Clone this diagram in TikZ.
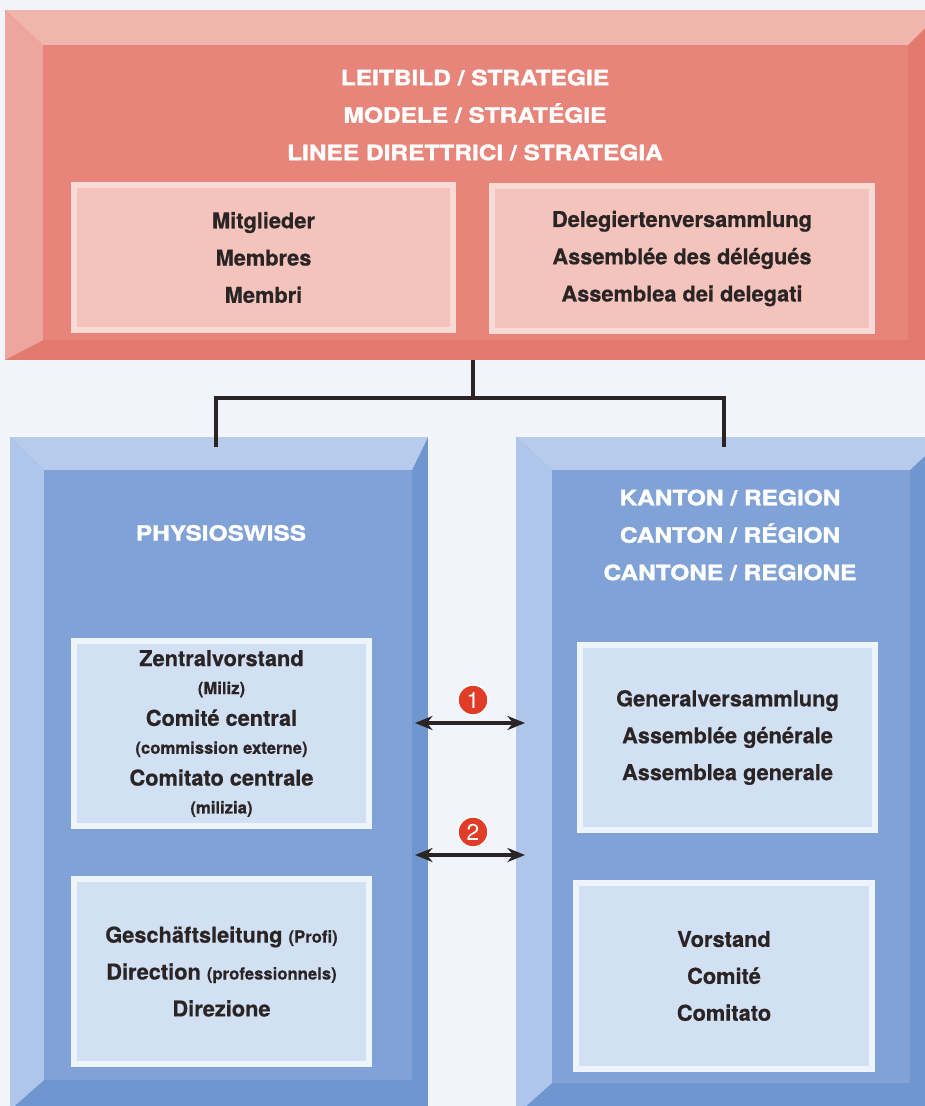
\documentclass[tikz,border=0pt]{standalone}
\usepackage{fontspec}
\setmainfont{TeX Gyre Heros}[BoldFeatures={FakeBold=0.6}]
\newfontfamily\headfont{TeX Gyre Heros}[FakeStretch=1.16, BoldFeatures={FakeBold=1.6}]
\usepackage{tikz}
\usetikzlibrary{arrows.meta}
\definecolor{ink}{HTML}{2A2424}
\definecolor{paper}{HTML}{F1F5FB}
\definecolor{redface}{HTML}{E8857A}
\definecolor{redtop}{HTML}{F0B5AC}
\definecolor{redleft}{HTML}{EDA69D}
\definecolor{reddark}{HTML}{E27A6F}
\definecolor{redframe}{HTML}{F9DAD5}
\definecolor{redinner}{HTML}{F3C3BC}
\definecolor{blueface}{HTML}{80A2D7}
\definecolor{bluetop}{HTML}{B7CCEC}
\definecolor{blueleft}{HTML}{AFC6EA}
\definecolor{bluedark}{HTML}{7096D0}
\definecolor{blueframe}{HTML}{EEF4FC}
\definecolor{blueinner}{HTML}{D2E0F4}
\definecolor{badgered}{HTML}{E03C28}
\newcommand{\orgbox}[4]{\node [#1] (#2) at (#3) {#4}}
\newcommand{\smalltxt}[1]{{\fontsize{9.5}{11}\selectfont #1}}

\tikzset{
  headtitle/.style={text=white, align=center, font=\headfont\bfseries\fontsize{12}{21.3}\selectfont},
  redbox/.style={draw=redframe, fill=redinner, line width=0.12cm, minimum width=7.6cm,
    minimum height=2.92cm, align=center, text=ink, font=\bfseries\fontsize{12.4}{21.2}\selectfont},
  bluebox/.style={draw=blueframe, fill=blueinner, line width=0.12cm, minimum width=5.92cm,
    minimum height=3.72cm, align=center, text=ink, font=\bfseries\fontsize{12.4}{21}\selectfont},
  badge/.style={circle, fill=badgered, draw=white, line width=0.8pt, minimum size=0.6cm,
    inner sep=0pt, text=white, font=\fontsize{13}{13}\selectfont},
  link/.style={draw=ink, line width=2pt},
  both/.style={draw=ink, line width=1.8pt, {Stealth[length=10pt,width=8pt]}-{Stealth[length=10pt,width=8pt]}}
}

\begin{document}
\begin{tikzpicture}[x=0.02cm,y=-0.02cm]
\useasboundingbox (0,0) rectangle (925,1106);
\fill[paper] (0,0) rectangle (925,1106);

% top panel
\fill[reddark] (5,10) rectangle (943,360);
\fill[redtop] (5,10) -- (943,10) -- (908,45) -- (43,45) -- cycle;
\fill[redleft] (5,10) -- (43,45) -- (43,340) -- (5,360) -- cycle;
\fill[redface] (43,45) rectangle (908,340);

% left panel
\fill[bluedark] (10,437) rectangle (428,1130);
\fill[bluetop] (10,437) -- (428,437) -- (412,470) -- (44,470) -- cycle;
\fill[blueleft] (10,437) -- (44,470) -- (44,1080) -- (10,1110) -- cycle;
\fill[blueface] (44,470) rectangle (412,1080);

% right panel
\fill[bluedark] (516,437) rectangle (945,1130);
\fill[bluetop] (516,437) -- (945,437) -- (910,470) -- (552,470) -- cycle;
\fill[blueleft] (516,437) -- (552,470) -- (552,1083) -- (516,1115) -- cycle;
\fill[blueface] (552,470) rectangle (910,1083);

\orgbox{headtitle}{lead}{475,115}{LEITBILD / STRATEGIE\\MODELE / STRATÉGIE\\LINEE DIRETTRICI / STRATEGIA};
\orgbox{redbox}{members}{263.5,257.5}{Mitglieder\\Membres\\Membri};
\orgbox{redbox}{delegates}{682,258.5}{Delegiertenversammlung\\Assemblée des délégués\\Assemblea dei delegati};

\orgbox{headtitle}{physio}{221,533}{PHYSIOSWISS};
\orgbox{headtitle}{canton}{730,535}{KANTON / REGION\\CANTON / RÉGION\\CANTONE / REGIONE};

\orgbox{bluebox,font=\bfseries\fontsize{12.4}{15.9}\selectfont}{central}{221.5,733.5}{Zentralvorstand\\\smalltxt{(Miliz)}\\[2.2pt]Comité central\\\smalltxt{(commission externe)}\\[2.2pt]Comitato centrale\\\smalltxt{(milizia)}};
\orgbox{bluebox}{management}{221.5,971.5}{Geschäftsleitung \smalltxt{(Profi)}\\Direction \smalltxt{(professionnels)}\\Direzione};
\orgbox{bluebox}{assembly}{727.5,737.5}{Generalversammlung\\Assemblée générale\\Assemblea generale};
\orgbox{bluebox}{board}{724,976}{Vorstand\\Comité\\Comitato};

\orgbox{badge}{one}{473,700}{1};
\orgbox{badge}{two}{473,832}{2};

\coordinate (leadfoot) at (473,360);
\coordinate (physiohead) at (216,447);
\coordinate (cantonhead) at (724,447);
\draw[link] (leadfoot) -- ++(0,38) -| (physiohead);
\draw[link] (leadfoot) -- ++(0,38) -| (cantonhead);

\coordinate (oneleft) at (415,723);
\coordinate (oneright) at (525,723);
\coordinate (twoleft) at (415,855);
\coordinate (tworight) at (525,855);
\draw[both] (oneleft) -- (oneright);
\draw[both] (twoleft) -- (tworight);

\end{tikzpicture}
\end{document}
